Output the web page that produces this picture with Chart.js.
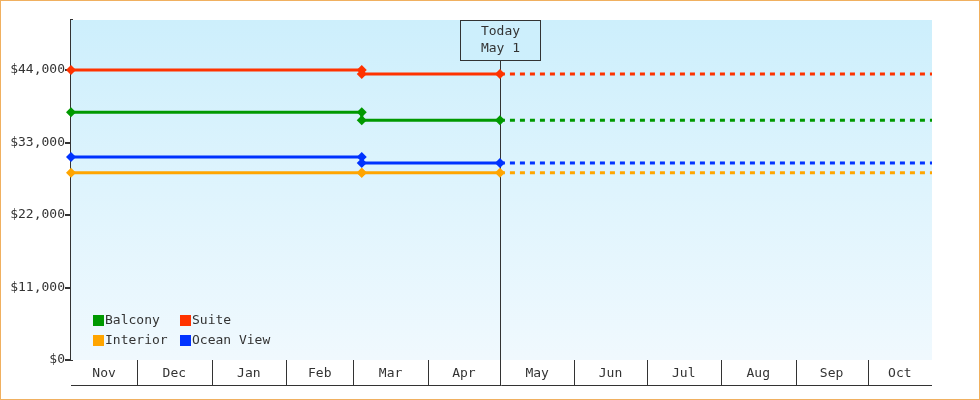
<!DOCTYPE html>
<html><head><meta charset="utf-8">
<script src="https://cdn.jsdelivr.net/npm/chart.js@4"></script>
<style>html,body{margin:0;padding:0;background:#fff}#w{width:978px;height:398px;border:1px solid #f0b060;position:relative}canvas{display:block}</style>
</head><body><div id="w"><canvas id="c" width="978" height="398"></canvas></div>
<script>
// day numbers: 0 = Nov 1
const months = ["Nov","Dec","Jan","Feb","Mar","Apr","May","Jun","Jul","Aug","Sep","Oct"];
const monthStarts = [0,30,61,92,120,151,181,212,242,273,304,334,365];
const xMin = 2.5, xMax = 360.8;
const changeDay = 123.5;   // early Mar
const todayDay = 181;      // May 1
const seriesNames = ["Balcony","Suite","Interior","Ocean View"];
const seriesColors = ["#009900","#ff3300","#ffa500","#0033ff"];
const priceBefore = [37600,44000,28400,30800];
const priceAfter  = [36400,43400,28400,29900];
const yTicks = [0,11000,22000,33000,44000];
const FONT = "'DejaVu Sans Mono', monospace";

const datasets = [];
seriesNames.forEach((n,i)=>{
  datasets.push({label:n, data:[{x:xMin,y:priceBefore[i]},{x:changeDay,y:priceBefore[i]},{x:changeDay,y:priceAfter[i]},{x:todayDay,y:priceAfter[i]}],
    borderColor:seriesColors[i], backgroundColor:seriesColors[i], borderWidth:3, showLine:true, clip:false,
    pointStyle:'rectRot', pointRadius:5, pointBorderWidth:0});
  datasets.push({label:n+' forecast', data:[{x:todayDay,y:priceAfter[i]},{x:xMax,y:priceAfter[i]}],
    borderColor:seriesColors[i], borderWidth:3, borderDash:[5,5], showLine:true, pointRadius:0});
});

const deco = {
  id:'deco',
  beforeDatasetsDraw(ch){
    const {ctx, chartArea:a} = ch;
    const g = ctx.createLinearGradient(0,a.top,0,a.bottom);
    g.addColorStop(0,'#cdeffc'); g.addColorStop(1,'#f0f9fe');
    ctx.save(); ctx.fillStyle=g; ctx.fillRect(a.left,a.top,a.right-a.left,a.bottom-a.top);
    const xs = ch.scales.x;
    const tx = Math.round(xs.getPixelForValue(todayDay))+0.5;
    ctx.strokeStyle='#333'; ctx.lineWidth=1;
    ctx.beginPath(); ctx.moveTo(tx,a.top+40); ctx.lineTo(tx,a.bottom); ctx.stroke();
    ctx.restore();
  },
  afterDatasetsDraw(ch){
    const {ctx, chartArea:a} = ch;
    const xs = ch.scales.x;
    ctx.save();
    const tx = Math.round(xs.getPixelForValue(todayDay))+0.5;
    ctx.fillStyle='#cdeffc'; ctx.strokeStyle='#333'; ctx.lineWidth=1;
    ctx.fillRect(tx-40,a.top+0.5,80,40); ctx.strokeRect(tx-40,a.top+0.5,80,40);
    ctx.fillStyle='#333'; ctx.font='13px '+FONT; ctx.textAlign='center'; ctx.textBaseline='middle';
    ctx.fillText('Today',tx,a.top+12); ctx.fillText('May 1',tx,a.top+29);
    const rowB = a.bottom+25;
    ctx.beginPath(); ctx.moveTo(a.left,rowB+0.5); ctx.lineTo(a.right,rowB+0.5); ctx.stroke();
    for(let i=0;i<months.length;i++){
      const x0=Math.max(a.left,xs.getPixelForValue(monthStarts[i]));
      const x1=Math.min(a.right,xs.getPixelForValue(monthStarts[i+1]));
      if(i>0){ctx.beginPath(); ctx.moveTo(Math.round(x0)+0.5,a.bottom); ctx.lineTo(Math.round(x0)+0.5,rowB); ctx.stroke();}
      ctx.fillText(months[i],(x0+x1)/2,a.bottom+14);
    }
    const pos=[[a.left+22,a.bottom-40],[a.left+109,a.bottom-40],[a.left+22,a.bottom-20],[a.left+109,a.bottom-20]];
    ctx.textAlign='left';
    seriesNames.forEach((n,i)=>{
      const [x,y]=pos[i]; ctx.fillStyle=seriesColors[i]; ctx.fillRect(x,y-5,11,11);
      ctx.fillStyle='#333'; ctx.fillText(n,x+12,y+1);
    });
    ctx.restore();
  }
};

new Chart(document.getElementById('c'),{
  type:'scatter',
  data:{datasets},
  options:{
    responsive:false, animation:false,
    layout:{padding:{top:19,right:47,bottom:39,left:0}},
    plugins:{legend:{display:false},tooltip:{enabled:false}},
    scales:{
      x:{type:'linear',min:xMin,max:xMax,display:false},
      y:{min:0,max:51600,
        afterFit(s){s.width=70;},
        afterBuildTicks(s){s.ticks=yTicks.map(v=>({value:v}));},
        grid:{display:true,drawOnChartArea:false,drawTicks:true,tickLength:6,color:'#333',lineWidth:2},
        border:{display:true,color:'#333',width:3},
        ticks:{color:'#333',font:{family:"DejaVu Sans Mono",size:13},padding:0,
          callback:v=>'$'+v.toLocaleString('en-US')}
      }
    }
  },
  plugins:[deco]
});
</script></body></html>
